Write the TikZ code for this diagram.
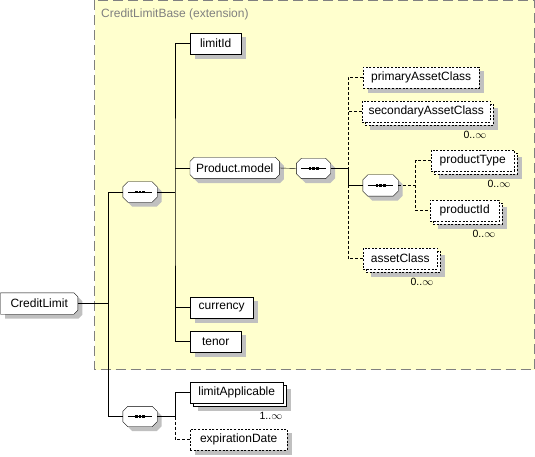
\documentclass[tikz,border=0pt]{standalone}
\usepackage{fontspec}
\setmainfont{Liberation Sans}
\definecolor{extfill}{RGB}{255,255,206}
\definecolor{shadowgray}{RGB}{192,192,192}
\pgfdeclarelayer{back}
\pgfdeclarelayer{mid}
\pgfsetlayers{back,mid,main}
\begin{document}
\begin{tikzpicture}[x=1pt,y=-1pt,line width=1pt,
    font=\fontsize{12}{14}\selectfont,
    opt/.style={dash pattern=on 2pt off 1.6pt},
    optline/.style={dash pattern=on 3pt off 2pt},
    elem/.style={draw,fill=white,inner sep=0pt,minimum height=21pt,anchor=west},
    octo/.style={inner sep=0pt,minimum height=21pt,anchor=west},
    seq/.style={inner sep=0pt,minimum width=34pt,minimum height=20pt},
    octpath/.style args={#1/#2/#3}{insert path={
      ([xshift=#2pt]#1.north west) -- ([xshift=-#3pt]#1.north east) -- ([yshift=-#3pt]#1.north east)
      -- ([yshift=#3pt]#1.south east) -- ([xshift=-#3pt]#1.south east) -- ([xshift=#2pt]#1.south west)
      -- ([yshift=#2pt]#1.south west) -- ([yshift=-#2pt]#1.north west) -- cycle}},
    mult/.style={anchor=east,inner sep=0pt,font=\fontsize{10.5}{12}\selectfont}]
  \useasboundingbox (0,0) rectangle (535,457);
  \begin{pgfonlayer}{back}
    \draw[draw=gray,fill=extfill,line width=0.8pt,dash pattern=on 10pt off 5pt] (94.5,0.5) rectangle (534.5,369.5);
  \end{pgfonlayer}
  \node[anchor=west,text=gray,inner sep=0pt] (extLbl) at (101,14) {CreditLimitBase (extension)};

  \node[octo,minimum width=77pt] (creditLimit) at (0.5,303.5) {CreditLimit};
  \node[octo,minimum width=89pt] (productModel) at (190,168) {Product.model};
  \node[seq] (seqMain) at (140,192) {};
  \node[seq] (seqTail) at (140,416.5) {};
  \node[seq] (seqModel) at (313.5,168.5) {};
  \node[seq,minimum width=35pt,minimum height=21pt] (seqProd) at (380.5,185.5) {};

  \node[elem,minimum width=51pt] (limitId) at (190,43.5) {limitId};
  \node[elem,minimum width=63pt] (currency) at (190,307.5) {currency};
  \node[elem,minimum width=51pt] (tenor) at (190,341.5) {tenor};
  \node[elem,opt,minimum width=116pt] (primaryAC) at (363,77.5) {primaryAssetClass};
  \node[elem,opt,minimum width=128pt] (secondaryAC) at (362,111.5) {secondaryAssetClass};
  \node[elem,opt,minimum width=83pt] (productType) at (431,160.5) {productType};
  \node[elem,opt,minimum width=69pt] (productId) at (430,210.5) {productId};
  \node[elem,opt,minimum width=74pt] (assetClass) at (363,258.5) {assetClass};
  \node[elem,minimum width=93pt] (limitApplicable) at (190,392.5) {limitApplicable};
  \node[elem,opt,minimum width=97pt] (expirationDate) at (190,439.5) {expirationDate};

  \node[mult] (secondaryACm) at ([shift={(-4,13)}]secondaryAC.south east) {0..$\infty$};
  \node[mult] (productTypem) at ([shift={(-4,13)}]productType.south east) {0..$\infty$};
  \node[mult] (productIdm) at ([shift={(-4,13)}]productId.south east) {0..$\infty$};
  \node[mult] (assetClassm) at ([shift={(-4,13)}]assetClass.south east) {0..$\infty$};
  \node[mult] (limitApplicablem) at ([shift={(-1,13)}]limitApplicable.south east) {1..$\infty$};

  \begin{pgfonlayer}{mid}
    \foreach \n in {limitId,currency,tenor,primaryAC,expirationDate}
      \fill[shadowgray] ([xshift=4.5pt,yshift=-4.5pt]\n.north west) rectangle ([xshift=4.5pt,yshift=-4.5pt]\n.south east);
    \foreach \n in {secondaryAC,productType,productId,assetClass,limitApplicable}
      \fill[shadowgray] ([xshift=7.5pt,yshift=-7.5pt]\n.north west) rectangle ([xshift=7.5pt,yshift=-7.5pt]\n.south east);
    \begin{scope}[transform canvas={xshift=4.5pt,yshift=-4.5pt}]
      \foreach \n/\l/\r in {creditLimit/0/4,productModel/4/4,seqMain/5/5,seqTail/5/5,seqModel/5/5,seqProd/5/5}
        \fill[shadowgray,octpath=\n/\l/\r];
    \end{scope}
    \foreach \n/\o in {secondaryAC/opt,productType/opt,productId/opt,assetClass/opt,limitApplicable/solid}
      \draw[fill=white,\o] ([xshift=3pt,yshift=-3pt]\n.north west) rectangle ([xshift=3pt,yshift=-3pt]\n.south east);
    \foreach \n/\l/\r in {creditLimit/0/4,productModel/4/4,seqMain/5/5,seqTail/5/5,seqModel/5/5,seqProd/5/5}
      \draw[fill=white,octpath=\n/\l/\r];
  \end{pgfonlayer}

  \foreach \n in {seqMain,seqTail,seqModel,seqProd}{
    \draw ([xshift=5pt]\n.west) -- ([xshift=-5pt]\n.east);
    \foreach \d in {-3.6,0,3.6}{\fill ([xshift=\d pt]\n.center) +(-1.4,-1.4) rectangle +(1.4,1.4);};
  }

  \coordinate (jRoot) at (108.5,303.5);
  \coordinate (jMain) at (175,192);
  \coordinate (jTail) at (175,416.5);
  \coordinate (jModel) at (348,168.5);
  \coordinate (jProd) at (415.5,185.5);

  \draw (creditLimit.east) -- (jRoot);
  \draw (seqMain.west) -| (jRoot) |- (seqTail.west);
  \draw (seqMain.east) -- (jMain);
  \draw (limitId.west) -| (jMain) |- (tenor.west);
  \draw (productModel.west) -- (productModel.west -| jMain);
  \draw (currency.west) -- (currency.west -| jMain);
  \draw (productModel.east) -- (seqModel.west);
  \draw (seqModel.east) -- (jModel) |- (seqProd.west);
  \draw[optline] (primaryAC.west) -| (jModel);
  \draw[optline] (secondaryAC.west) -- (secondaryAC.west -| jModel);
  \draw[optline] (seqProd.west -| jModel) |- (assetClass.west);
  \draw[optline] (seqProd.east) -- (jProd);
  \draw[optline] (productType.west) -| (jProd) |- (productId.west);
  \draw (seqTail.east) -- (jTail) |- (limitApplicable.west);
  \draw[optline] (jTail) |- (expirationDate.west);
\end{tikzpicture}
\end{document}
